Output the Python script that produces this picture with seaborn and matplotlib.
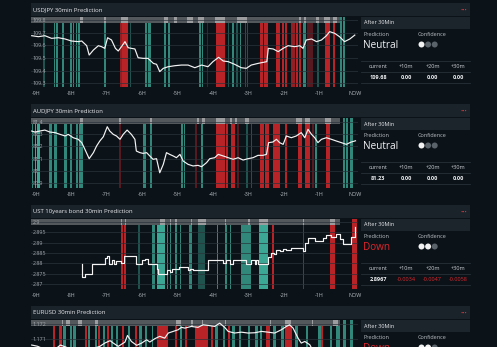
import matplotlib
matplotlib.use("Agg")
import matplotlib.pyplot as plt
import seaborn as sns
from matplotlib.patches import Rectangle, Ellipse

plt.rcParams['font.family'] = ['Open Sans', 'DejaVu Sans']

# ---------------- data ----------------
titles = ["USDJPY 30min Prediction", "AUDJPY 30min Prediction",
          "UST 10years bond 30min Prediction", "EURUSD 30min Prediction"]
predictions = ["Neutral", "Neutral", "Down", "Down"]
confidence = [1, 1, 2, 2]
table_head = ["current", "+10m", "+20m", "+30m"]
current_vals = ["109.68", "81.23", "2.8967", ""]
delta_vals = [["0.00", "0.00", "0.00"], ["0.00", "0.00", "0.00"],
              ["-0.0034", "-0.0047", "-0.0058"], ["", "", ""]]

xticks = [-9, -8, -7, -6, -5, -4, -3, -2, -1, 0]
xlabels = ["-9H", "-8H", "-7H", "-6H", "-5H", "-4H", "-3H", "-2H", "-1H", "NOW"]

y1_ticks = [109.3, 109.4, 109.5, 109.6, 109.7, 109.8]
y1_labels = ["109.3", "109.4", "109.5", "109.6", "109.7", "109.8"]
y2_ticks = [80.9, 81.0, 81.1, 81.2, 81.3, 81.4]
y2_labels = ["80.9", "81", "81.1", "81.2", "81.3", "81.4"]
y3_ticks = [2.87, 2.875, 2.88, 2.885, 2.89, 2.895, 2.9]
y3_labels = ["2.87", "2.875", "2.88", "2.885", "2.89", "2.895", "2.9"]
y4_ticks = [1.171, 1.172]
y4_labels = ["1.171", "1.172"]

# price series (hours before now, value)
usdjpy_t = [-9.11, -8.92, -8.74, -8.55, -8.36, -8.17, -7.99, -7.80, -7.70, -7.56, -7.49, -7.37,
            -7.23, -7.14, -7.05, -6.97, -6.86, -6.75, -6.67, -6.58, -6.48, -6.39, -6.30, -6.20,
            -6.11, -5.97, -5.83, -5.68, -5.59, -5.50, -5.40, -5.26, -5.07, -4.89, -4.70, -4.51,
            -4.32, -4.14, -4.00, -3.84, -3.71, -3.57, -3.39, -3.20, -3.06, -2.92, -2.73, -2.59,
            -2.48, -2.44, -2.30, -2.16, -2.02, -1.88, -1.69, -1.55, -1.46, -1.37, -1.22, -1.08,
            -0.94, -0.80, -0.71, -0.57, -0.43, -0.29, -0.14, 0.0]
usdjpy_v = [109.676, 109.668, 109.676, 109.655, 109.660, 109.650, 109.634, 109.629, 109.634,
            109.597, 109.523, 109.563, 109.597, 109.589, 109.576, 109.660, 109.642, 109.576,
            109.555, 109.589, 109.629, 109.581, 109.576, 109.571, 109.502, 109.497, 109.497,
            109.457, 109.450, 109.392, 109.418, 109.431, 109.439, 109.444, 109.444, 109.423,
            109.444, 109.431, 109.471, 109.505, 109.476, 109.471, 109.450, 109.423, 109.418,
            109.444, 109.457, 109.465, 109.471, 109.576, 109.571, 109.550, 109.576, 109.597,
            109.589, 109.597, 109.576, 109.642, 109.650, 109.629, 109.642, 109.676, 109.708,
            109.695, 109.668, 109.629, 109.650, 109.681]

audjpy_t = [-9.11, -9.02, -8.88, -8.74, -8.60, -8.45, -8.31, -8.17, -8.08, -7.94, -7.80, -7.70,
            -7.61, -7.49, -7.37, -7.28, -7.19, -7.09, -6.98, -6.91, -6.81, -6.72, -6.62, -6.53,
            -6.42, -6.30, -6.20, -6.16, -6.06, -5.97, -5.87, -5.78, -5.69, -5.59, -5.50, -5.40,
            -5.31, -5.22, -5.12, -5.03, -4.93, -4.84, -4.70, -4.56, -4.42, -4.32, -4.18, -4.09,
            -3.95, -3.85, -3.71, -3.57, -3.43, -3.29, -3.15, -3.01, -2.87, -2.73, -2.59, -2.49,
            -2.43, -2.31, -2.21, -2.12, -2.02, -1.93, -1.79, -1.65, -1.51, -1.41, -1.32, -1.22,
            -1.13, -1.04, -0.94, -0.80, -0.66, -0.52, -0.38, -0.24, -0.10, 0.02]
audjpy_v = [81.324, 81.316, 81.324, 81.332, 81.316, 81.311, 81.297, 81.284, 81.297, 81.270,
            81.257, 81.230, 81.176, 81.100, 81.149, 81.203, 81.243, 81.278, 81.359, 81.324,
            81.297, 81.284, 81.257, 81.297, 81.332, 81.297, 81.257, 81.162, 81.149, 81.143,
            81.149, 81.122, 81.095, 81.100, 80.986, 81.054, 81.149, 81.135, 81.122, 81.108,
            81.135, 81.081, 81.054, 81.041, 81.046, 81.035, 81.068, 81.100, 81.108, 81.135,
            81.122, 81.108, 81.095, 81.108, 81.089, 81.100, 81.108, 81.127, 81.127, 81.135,
            81.230, 81.235, 81.257, 81.230, 81.216, 81.284, 81.270, 81.284, 81.311, 81.270,
            81.338, 81.297, 81.270, 81.230, 81.257, 81.270, 81.257, 81.243, 81.230, 81.216,
            81.235, 81.245]

ust_t = [-7.70, -7.68, -7.61, -7.42, -7.09, -7.03, -6.98, -6.93, -6.86, -6.78, -6.72, -6.58,
         -6.50, -6.18, -6.16, -6.01, -5.92, -5.82, -5.65, -5.59, -5.54, -5.33, -5.30, -5.21,
         -5.16, -4.97, -4.79, -4.71, -4.65, -4.55, -4.18, -4.13, -3.81, -3.71, -3.62, -3.53,
         -3.43, -3.20, -3.06, -2.93, -2.82, -2.78, -2.73, -2.52, -2.46, -2.37, -2.27, -2.21,
         -2.11, -2.02, -1.93, -1.79, -1.51, -1.46, -1.40, -1.32, -1.15, -1.11, -0.94, -0.90,
         -0.80, -0.66, -0.52, -0.43, -0.34, -0.19, -0.10, 0.0]
ust_v = [2.87984, 2.87339, 2.87468, 2.87984, 2.87984, 2.88274, 2.88339, 2.87984, 2.88177,
         2.87984, 2.88113, 2.88016, 2.88339, 2.88339, 2.87984, 2.88145, 2.88226, 2.87984,
         2.87984, 2.87742, 2.87468, 2.87468, 2.87661, 2.87581, 2.87742, 2.87823, 2.87823,
         2.87661, 2.87742, 2.87661, 2.87661, 2.88145, 2.88145, 2.88016, 2.88177, 2.87984,
         2.88177, 2.88145, 2.87984, 2.88177, 2.87984, 2.88177, 2.87984, 2.87984, 2.88306,
         2.88500, 2.88435, 2.88661, 2.88597, 2.88710, 2.88661, 2.88758, 2.88758, 2.88597,
         2.88984, 2.89242, 2.89242, 2.89081, 2.89081, 2.89242, 2.89355, 2.89274, 2.89435,
         2.89194, 2.88952, 2.88952, 2.89274, 2.89758]

eurusd_t = [-9.11, -8.95, -8.80, -8.60, -8.45, -8.30, -8.10, -7.90, -7.70, -7.45, -7.19, -7.05,
            -6.90, -6.81, -6.67, -6.48, -6.41, -6.30, -6.15, -6.01, -5.87, -5.78, -5.64, -5.50,
            -5.36, -5.26, -5.12, -4.98, -4.89, -4.79, -4.61, -4.42, -4.28, -4.14, -3.95, -3.81,
            -3.67, -3.57, -3.39, -3.20, -3.01, -2.82, -2.63, -2.45, -2.26, -2.07, -1.93, -1.84,
            -1.74, -1.60, -1.51, -1.41, -1.27, -1.22, -1.00, -0.70, -0.40, 0.0]
eurusd_v = [1.17058, 1.17050, 1.17035, 1.17040, 1.17030, 1.17058, 1.17040, 1.17030, 1.17035,
            1.17030, 1.17049, 1.17071, 1.17087, 1.17071, 1.17049, 1.17078, 1.17122, 1.17082,
            1.17056, 1.17071, 1.17093, 1.17078, 1.17100, 1.17116, 1.17104, 1.17138, 1.17149,
            1.17160, 1.17176, 1.17171, 1.17182, 1.17176, 1.17193, 1.17189, 1.17182, 1.17204,
            1.17176, 1.17149, 1.17138, 1.17144, 1.17138, 1.17140, 1.17149, 1.17144, 1.17138,
            1.17160, 1.17182, 1.17193, 1.17171, 1.17104, 1.17071, 1.17082, 1.17060, 1.17038,
            1.17010, 1.16990, 1.16985, 1.16995]

# signal bars: (start_hour, end_hour, strength 1-3)
usdjpy_up = [(-8.78, -8.74, 1), (-8.49, -8.44, 2), (-8.42, -8.38, 2), (-8.25, -8.19, 2),
             (-8.03, -7.98, 2), (-7.95, -7.91, 2), (-7.87, -7.83, 2), (-7.80, -7.75, 2),
             (-7.06, -7.02, 2), (-6.34, -6.32, 1), (-5.92, -5.86, 2), (-5.83, -5.76, 2),
             (-5.37, -5.31, 2), (-5.26, -5.20, 2), (-4.38, -4.35, 2), (-4.32, -4.28, 2),
             (-3.57, -3.54, 1), (-3.46, -3.42, 2), (-3.34, -3.29, 1), (-3.23, -3.20, 2),
             (-3.10, -3.07, 1), (-3.04, -3.01, 1), (-1.47, -1.37, 2), (-1.06, -1.02, 1),
             (-0.43, -0.37, 2), (-0.34, -0.29, 2)]
usdjpy_down = [(-6.62, -6.56, 2), (-6.56, -6.39, 3), (-4.17, -4.14, 1), (-3.90, -3.67, 3),
               (-2.66, -2.58, 3), (-2.56, -2.45, 3), (-2.21, -2.12, 3), (-2.05, -1.99, 3),
               (-1.97, -1.92, 3), (-1.79, -1.69, 2), (-1.67, -1.60, 3), (-1.58, -1.53, 3),
               (-1.34, -1.17, 1), (-0.85, -0.71, 3), (-0.61, -0.55, 3)]
audjpy_up = [(-9.11, -9.06, 2), (-9.03, -8.98, 3), (-8.96, -8.87, 3), (-8.62, -8.55, 2),
             (-8.47, -8.40, 2), (-8.19, -8.12, 2), (-8.03, -7.96, 2), (-7.87, -7.80, 2),
             (-7.78, -7.66, 2), (-5.96, -5.90, 2), (-5.78, -5.72, 2), (-4.91, -4.84, 2),
             (-4.83, -4.79, 2), (-4.34, -4.29, 2), (-3.06, -3.00, 1), (-2.94, -2.90, 1),
             (-1.13, -1.07, 2), (-0.33, -0.27, 2), (-0.24, -0.18, 2), (-0.14, -0.05, 2)]
audjpy_down = [(-6.64, -6.60, 1), (-4.51, -4.45, 1), (-3.90, -3.78, 3), (-3.76, -3.66, 3),
               (-3.64, -3.57, 3), (-3.48, -3.37, 3), (-3.33, -3.27, 1), (-2.68, -2.56, 3),
               (-2.53, -2.43, 3), (-2.31, -2.11, 3), (-1.97, -1.90, 3), (-1.60, -1.49, 3),
               (-1.41, -1.26, 3), (-1.22, -1.15, 1), (-0.80, -0.70, 3)]
ust_up = [(-6.11, -6.05, 1), (-5.73, -5.62, 2), (-5.58, -5.36, 3), (-5.30, -5.26, 2),
          (-5.21, -5.17, 2), (-5.06, -5.02, 2), (-4.92, -4.89, 2), (-4.68, -4.59, 2),
          (-4.42, -4.21, 1), (-3.89, -3.85, 2), (-3.65, -3.61, 2), (-3.52, -3.48, 2),
          (-3.20, -2.93, 2), (-2.71, -2.46, 3), (-1.45, -1.42, 1)]
ust_down = [(-6.58, -6.53, 3), (-6.50, -6.46, 3), (-2.33, -2.29, 3), (-0.71, -0.55, 3),
            (-0.08, 0.05, 3)]
eurusd_up = [(-8.22, -8.15, 2), (-8.03, -7.97, 2), (-7.95, -7.85, 2), (-7.53, -7.48, 2),
             (-7.33, -7.27, 2), (-7.09, -7.03, 2), (-6.88, -6.82, 2), (-6.74, -6.69, 2),
             (-6.39, -6.33, 2), (-6.09, -5.99, 2), (-5.92, -5.86, 2), (-5.73, -5.68, 2),
             (-4.93, -4.87, 2), (-3.93, -3.85, 2), (-3.71, -3.65, 2), (-3.46, -3.38, 2),
             (-3.27, -3.20, 2), (-3.01, -2.95, 2), (-2.82, -2.73, 2), (-2.67, -2.61, 2),
             (-2.30, -2.21, 2), (-2.07, -2.01, 2), (-1.69, -1.60, 2), (-1.39, -1.33, 2),
             (-1.04, -0.94, 2), (-0.71, -0.64, 2), (-0.52, -0.43, 2), (-0.33, -0.24, 2),
             (-0.14, -0.05, 2)]
eurusd_down = [(-8.50, -8.44, 3), (-8.34, -8.27, 3), (-7.61, -7.55, 3), (-7.23, -7.18, 3),
               (-6.99, -6.93, 3), (-6.56, -6.50, 3), (-6.20, -6.15, 3), (-5.59, -5.26, 3),
               (-5.07, -5.00, 3), (-4.79, -4.72, 3), (-4.51, -4.14, 3), (-4.06, -3.99, 3),
               (-3.57, -3.52, 3), (-2.49, -2.40, 3), (-1.98, -1.77, 3), (-0.94, -0.90, 3)]

# light marks in the top strip
usdjpy_marks = [(-7.74, -7.67), (-7.06, -7.01), (-6.60, -6.39), (-5.38, -5.26), (-5.09, -5.00),
                (-4.73, -4.57), (-4.42, -4.26), (-3.93, -3.65), (-3.33, -3.05), (-1.58, -1.53),
                (-1.43, -1.37), (-1.09, -1.02), (-0.87, -0.70), (-0.62, -0.51)]
audjpy_marks = [(-7.75, -7.66), (-6.65, -6.58), (-5.78, -5.71), (-4.46, -4.40), (-4.32, -4.23),
                (-3.90, -3.65), (-3.53, -3.46), (-3.39, -3.31), (-3.10, -2.99), (-1.65, -1.49),
                (-1.41, -1.27), (-0.85, -0.66)]
ust_marks = [(-6.60, -6.56), (-6.48, -6.44), (-5.50, -5.34), (-5.22, -5.19), (-5.07, -5.00),
             (-4.62, -4.59), (-4.42, -4.19), (-3.65, -3.62), (-3.01, -2.95), (-2.71, -2.46),
             (-1.46, -1.43), (-0.71, -0.55)]
eurusd_marks = [(-8.27, -8.22), (-8.13, -8.03), (-7.80, -7.70), (-7.33, -7.24), (-5.03, -4.89),
                (-4.61, -4.56), (-4.32, -4.28), (-3.67, -3.62), (-2.40, -2.35), (-1.98, -1.79),
                (-1.22, -1.18), (-0.61, -0.47)]

# ---------------- style ----------------
W, H = 497, 347
BG = "#0b1218"
BAR_BG = "#1b232a"
GREEN = "#40b5a0"
RED = "#c8252a"
STRIP = "#53585c"
MARK = "#a8aaac"
alpha_map = {1: 0.4, 2: 0.72, 3: 0.92}

panels = [
    dict(t=usdjpy_t, v=usdjpy_v, up=usdjpy_up, dn=usdjpy_down, mk=usdjpy_marks,
         yt=y1_ticks, yl=y1_labels, ylim=(109.273, 109.826), step=False, xlab=True),
    dict(t=audjpy_t, v=audjpy_v, up=audjpy_up, dn=audjpy_down, mk=audjpy_marks,
         yt=y2_ticks, yl=y2_labels, ylim=(80.865, 81.432), step=False, xlab=True),
    dict(t=ust_t, v=ust_v, up=ust_up, dn=ust_down, mk=ust_marks,
         yt=y3_ticks, yl=y3_labels, ylim=(2.8677, 2.9016), step=True, xlab=True),
    dict(t=eurusd_t, v=eurusd_v, up=eurusd_up, dn=eurusd_down, mk=eurusd_marks,
         yt=y4_ticks, yl=y4_labels, ylim=(1.1676, 1.17227), step=False, xlab=False),
]

fig = plt.figure(figsize=(W / 100, H / 100), dpi=100, facecolor=BG)


def frect(x0, y0, x1, y1, color, z=0.1):
    fig.add_artist(Rectangle((x0 / W, 1 - y1 / H), (x1 - x0) / W, (y1 - y0) / H,
                             transform=fig.transFigure, facecolor=color,
                             edgecolor='none', zorder=z))


def fline(x0, x1, y, color):
    fig.add_artist(plt.Line2D([x0 / W, x1 / W], [1 - y / H, 1 - y / H],
                              transform=fig.transFigure, color=color, lw=0.6))


def ftext(x, y, s, **kw):
    fig.text(x / W, 1 - y / H, s, va='center', **kw)


XL, XR = 31, 358
STRIP_END = -0.425

for i, p in enumerate(panels):
    dy = 101 * i
    # title bar
    frect(31, 3 + dy, 470, 16.3 + dy, BAR_BG)
    ftext(33, 9.8 + dy, titles[i], fontsize=4.3, color="#e6e9ec", ha='left')
    ftext(463.5, 10 + dy, "•••", fontsize=4.2, color="#d2353a", ha='center')

    # chart axes
    top, bot = 16.7 + dy, 86.7 + dy
    ax = fig.add_axes([XL / W, 1 - bot / H, (XR - XL) / W, (bot - top) / H])
    ax.set_facecolor(BG)
    lo, hi = p['ylim']
    ax.set_xlim(-9.13, 0.09)
    ax.set_ylim(lo, hi)
    for sigs, col in ((p['up'], GREEN), (p['dn'], RED)):
        for (s, e, k) in sigs:
            ax.bar(s, hi - lo, width=e - s, bottom=lo, align='edge', color=col,
                   alpha=alpha_map[k], linewidth=0, zorder=1)
    tr = ax.get_xaxis_transform()
    ax.add_patch(Rectangle((-9.13, 0.906), STRIP_END + 9.13, 0.094, transform=tr,
                           facecolor=STRIP, edgecolor='none', zorder=1.2))
    for (s, e) in p['mk']:
        ax.add_patch(Rectangle((s, 0.906), e - s, 0.094, transform=tr,
                               facecolor=MARK, edgecolor='none', alpha=0.85, zorder=1.3))
    sns.lineplot(x=p['t'], y=p['v'], ax=ax, color="#f4f4f4", linewidth=0.85,
                 drawstyle='steps-post' if p['step'] else 'default', zorder=2)
    ax.set_axisbelow('line')
    ax.grid(axis='y', color="#2b343b", linewidth=0.5)
    ax.grid(axis='x', visible=False)
    ax.set_xticks(xticks)
    ax.set_xticklabels(xlabels)
    ax.set_yticks(p['yt'])
    ax.set_yticklabels(p['yl'])
    ax.tick_params(axis='x', length=0, pad=3.0, labelsize=3.9, labelcolor="#b4bac0",
                   labelbottom=p['xlab'])
    ax.tick_params(axis='y', length=0, pad=-1.2, labelsize=3.9, labelcolor="#a2a8ae")
    for lab in ax.get_yticklabels():
        lab.set_horizontalalignment('left')
    for sp in ax.spines.values():
        sp.set_visible(False)
    ax.set_xlabel("")
    ax.set_ylabel("")

    # right info panel
    frect(361, 17 + dy, 470, 29 + dy, "#1d252c")
    ftext(364, 23 + dy, "After 30Min", fontsize=4.0, color="#e6e9ec", ha='left')
    ftext(364, 34.3 + dy, "Prediction", fontsize=4.0, color="#b9bfc5", ha='left')
    ftext(418, 34.3 + dy, "Confidence", fontsize=4.0, color="#b9bfc5", ha='left')
    pcol = "#f2f4f6" if predictions[i] == "Neutral" else "#e0262c"
    ftext(363.5, 45.5 + dy, predictions[i], fontsize=7.2, color=pcol, ha='left')
    for k in range(3):
        c = "#f2f2f2" if k < confidence[i] else "#5b636a"
        fig.add_artist(Ellipse(((421.5 + 6.6 * k) / W, 1 - (44.5 + dy) / H), 6 / W, 6 / H,
                               transform=fig.transFigure, facecolor=c, edgecolor='none'))
    if current_vals[i]:
        for yy in (61, 72, 83):
            fline(361, 470, yy + dy, "#263037")
        cols = [378, 406, 432.5, 458]
        for j, h in enumerate(table_head):
            ftext(cols[j], 66.8 + dy, h, fontsize=4.0, color="#c9ced3", ha='center')
        ftext(cols[0], 77.8 + dy, current_vals[i], fontsize=4.0, color="#f2f4f6",
              ha='center', fontweight='bold')
        for j, d in enumerate(delta_vals[i]):
            dc = "#e0262c" if d.startswith("-") else "#f2f4f6"
            ftext(cols[j + 1], 77.8 + dy, d, fontsize=4.0, color=dc, ha='center',
                  fontweight='bold' if dc != "#e0262c" else 'normal')

fig.savefig("out.png", dpi=100, facecolor=BG)
